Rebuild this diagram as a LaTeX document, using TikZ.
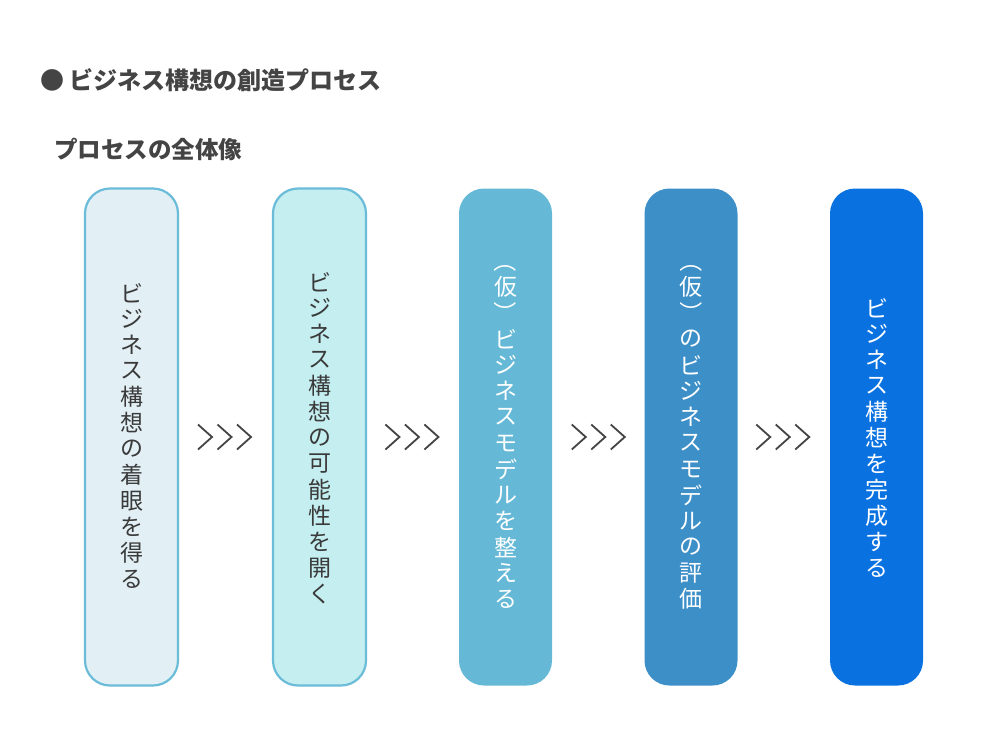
\documentclass[tikz,border=0pt]{standalone}
\usepackage{fontspec}
\usepackage{graphicx}
\setmainfont{Noto Sans CJK JP}
\newfontfamily\cjk{Noto Sans CJK JP}
\usetikzlibrary{calc}
\definecolor{ink}{HTML}{444444}
\definecolor{txt}{HTML}{3A3A3A}
\definecolor{edgeA}{HTML}{6BBCD8}
\definecolor{fillA}{HTML}{E2F0F5}
\definecolor{fillB}{HTML}{C4EEF0}
\definecolor{fillC}{HTML}{65B9D6}
\definecolor{fillD}{HTML}{3D8FC8}
\definecolor{fillE}{HTML}{0A72E0}
\newcommand{\rp}[1]{\rotatebox[origin=c]{-90}{#1}}
\newcommand{\vstack}[5]{%
  \foreach \ch [count=\i from 0] in {#4}
    \node[vchar,text=#5] (#1-\i) at (#2,#3+\i*26) {\ch};}
\newcommand{\chev}[1]{%
  \foreach \k in {-1,0,1}
    \draw[chev] ($(#1)+(\k*19.5-7,-12.5)$) -- ($(#1)+(\k*19.5+7,0)$) -- ($(#1)+(\k*19.5-7,12.5)$);}
\begin{document}
\begin{tikzpicture}[x=1pt,y=-1pt,
  stepbox/.style={rounded corners=25pt,minimum width=93pt,minimum height=497pt,inner sep=0pt},
  lightbox/.style={stepbox,draw=edgeA,line width=2.2pt},
  vchar/.style={font=\cjk\fontsize{23}{26}\selectfont,inner sep=0pt,anchor=center},
  chev/.style={draw=ink,line width=1.8pt,line join=miter,line cap=butt},
  ttl/.style={font=\bfseries\fontsize{24}{28}\selectfont,text=ink,anchor=west,inner sep=0pt},
  sub/.style={font=\bfseries\fontsize{23.5}{26}\selectfont,text=ink,anchor=west,inner sep=0pt}]
\useasboundingbox (0,0) rectangle (1000,731);
\fill[white] (0,0) rectangle (1000,731);
\node[ttl] (title) at (40,80) {● ビジネス構想の創造プロセス};
\node[sub] (subtitle) at (54,149) {プロセスの全体像};
\node[lightbox,fill=fillA] (b1) at (131.5,437) {};
\node[lightbox,fill=fillB] (b2) at (319.5,437) {};
\node[stepbox,fill=fillC] (b3) at (505.5,437) {};
\node[stepbox,fill=fillD] (b4) at (691,437) {};
\node[stepbox,fill=fillE] (b5) at (876.5,437) {};
\vstack{t1}{131.5}{293}{ビ,ジ,ネ,ス,構,想,の,着,眼,を,得,る}{txt}
\vstack{t2}{319.5}{282}{ビ,ジ,ネ,ス,構,想,の,可,能,性,を,開,く}{txt}
\vstack{t3}{505.5}{261}{\rp{（},仮,\rp{）},ビ,ジ,ネ,ス,モ,デ,ル,を,整,え,る}{white}
\vstack{t4}{691}{261}{\rp{（},仮,\rp{）},の,ビ,ジ,ネ,ス,モ,デ,ル,の,評,価}{white}
\vstack{t5}{876.5}{308}{ビ,ジ,ネ,ス,構,想,を,完,成,す,る}{white}
\coordinate (g1) at ($(b1.east)!0.5!(b2.west)+(-1,0)$);
\coordinate (g2) at ($(b2.east)!0.5!(b3.west)+(-1,0)$);
\coordinate (g3) at ($(b3.east)!0.5!(b4.west)+(0,0)$);
\coordinate (g4) at ($(b4.east)!0.5!(b5.west)+(-1,0)$);
\chev{g1}\chev{g2}\chev{g3}\chev{g4}
\end{tikzpicture}
\end{document}
